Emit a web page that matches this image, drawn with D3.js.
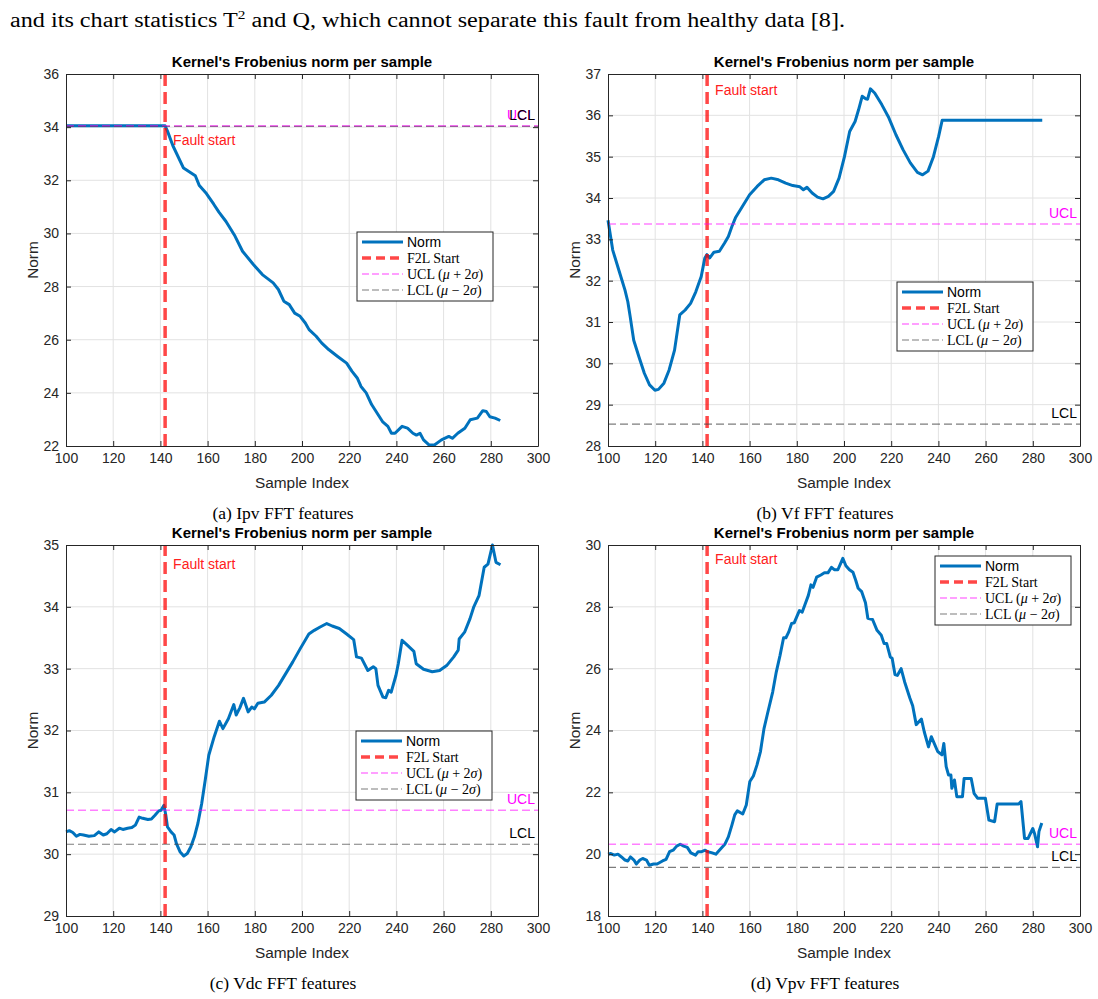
<!DOCTYPE html>
<html>
<head>
<meta charset="utf-8">
<script src="https://cdn.jsdelivr.net/npm/d3@7"></script>
<style>
  body { margin: 0; background: #fff; }
  svg { display: block; }
</style>
</head>
<body>
<script>
// ---- data (sample index, norm) ----
const ipvNorm = [[100,34.05],[142,34.05],[143,33.85],[145.3,33.3],[149.8,32.46],[154.8,32.17],[156.5,31.8],[159.5,31.5],[162.6,31.1],[164.8,30.8],[167.8,30.45],[171.6,29.9],[174.8,29.33],[179.4,28.83],[183.2,28.45],[187.8,28.14],[190,27.89],[192.3,27.45],[194.6,27.32],[196.9,27.0],[199.2,26.88],[201.4,26.63],[203,26.38],[206,26.13],[208.3,25.88],[211.3,25.63],[215.1,25.37],[218.9,25.12],[221.2,24.81],[223.4,24.56],[225,24.24],[227.2,24.0],[229.5,23.56],[231.8,23.24],[234.1,22.92],[236.4,22.74],[237.9,22.48],[239.4,22.48],[242.4,22.74],[244.7,22.67],[247,22.48],[248.5,22.41],[250,22.48],[251.5,22.23],[253.8,22.04],[256.1,22.04],[259.1,22.23],[262.2,22.36],[263.7,22.29],[266,22.48],[269,22.67],[271.3,22.99],[274.3,23.05],[276.6,23.33],[278.1,23.3],[279.6,23.1],[281.8,23.05],[284,22.96]];

const vfNorm = [[100,33.46],[102,32.74],[105,32.18],[107.2,31.77],[108.4,31.49],[109.4,31.13],[110.9,30.56],[113.1,30.16],[115.4,29.76],[117.6,29.48],[119.9,29.35],[121.4,29.37],[123.7,29.52],[125.9,29.84],[128.2,30.32],[130.4,31.17],[132.7,31.29],[135,31.45],[137.2,31.73],[139.5,32.1],[141,32.54],[141.9,32.63],[143.1,32.55],[144.9,32.69],[147.2,32.71],[149.4,32.91],[151,33.07],[152.5,33.31],[154,33.52],[157,33.8],[160,34.08],[163.2,34.28],[166.2,34.44],[169.2,34.48],[172.2,34.44],[175.3,34.36],[178.3,34.3],[181.3,34.27],[182.8,34.2],[184.3,34.26],[186.5,34.12],[188.8,34.02],[191.1,33.98],[193.4,34.04],[195.6,34.16],[197.9,34.48],[200.2,35.0],[202.4,35.61],[204.7,35.85],[206.2,36.14],[207.7,36.46],[209.2,36.4],[210,36.39],[211.2,36.64],[213,36.54],[216,36.26],[219,35.94],[222,35.53],[225,35.17],[228.1,34.85],[231.1,34.62],[233.3,34.56],[235.6,34.65],[237.9,35.0],[240.1,35.49],[241.6,35.88],[284,35.88]];

const vdcNorm = [[100,30.36],[101.4,30.38],[102.9,30.35],[104.4,30.29],[105.9,30.32],[107.4,30.31],[109.7,30.29],[112,30.3],[113.9,30.36],[115.8,30.31],[117.3,30.33],[119.1,30.4],[120.6,30.36],[122.6,30.42],[124.1,30.4],[126.1,30.42],[127.9,30.43],[129.4,30.47],[131,30.6],[132.5,30.58],[134.7,30.56],[136.2,30.57],[137.7,30.63],[139.3,30.7],[140.3,30.71],[141.5,30.79],[142.3,30.63],[143,30.44],[144.5,30.36],[145.8,30.31],[146.8,30.17],[148.3,30.04],[149.9,29.97],[151.4,30.01],[152.9,30.12],[154.4,30.28],[155.9,30.5],[157.5,30.82],[159,31.2],[160.5,31.6],[162.8,31.9],[165,32.15],[166.5,32.03],[168.8,32.19],[171.1,32.42],[172.1,32.25],[173.7,32.37],[175.2,32.52],[177.2,32.3],[178.7,32.38],[179.8,32.35],[181.3,32.44],[184,32.46],[187,32.57],[190.1,32.73],[193.1,32.92],[196.1,33.11],[199.2,33.32],[202.9,33.56],[205.2,33.62],[207.5,33.67],[210.5,33.73],[212.8,33.69],[215.8,33.65],[218.9,33.56],[221.9,33.47],[223.1,33.19],[225.2,33.17],[227.9,32.97],[230.2,33.03],[231.3,33.0],[232.2,32.73],[234.3,32.54],[235.5,32.53],[236.7,32.65],[237.8,32.62],[239.8,32.89],[240.8,33.08],[242.4,33.46],[244.6,33.38],[247.4,33.28],[248.4,33.08],[251.5,32.99],[255.2,32.95],[258.3,32.97],[261.3,33.05],[264.3,33.19],[266.2,33.3],[266.6,33.48],[268.9,33.59],[271.2,33.81],[272.7,33.99],[275,34.18],[277.2,34.64],[278.8,34.69],[280.7,35.0],[282.2,34.72],[284.1,34.68]];

const vpvNorm = [[100,20.0],[101.2,20.02],[102.7,19.97],[104.2,20.0],[105.7,19.91],[107.2,19.81],[108.4,19.78],[109.5,19.91],[111,19.81],[112,19.68],[113.5,19.81],[114.7,19.86],[116.3,19.81],[117.5,19.64],[119.3,19.68],[120.8,19.68],[123.1,19.78],[124.6,19.83],[126.1,20.08],[127.6,20.13],[129.1,20.26],[130.6,20.32],[132.1,20.26],[133.6,20.22],[135.1,20.04],[137.1,19.97],[138.2,20.08],[139.7,20.08],[141.2,20.13],[142.2,20.08],[143.8,20.05],[145.7,20.0],[147.2,20.13],[149.5,20.32],[151,20.56],[152.5,20.94],[153.7,21.27],[154.8,21.4],[157.1,21.3],[158.6,21.59],[160.1,22.35],[161.6,22.53],[163.1,22.88],[164.6,23.32],[166.1,24.06],[167.6,24.55],[169.8,25.25],[171.3,25.89],[172.9,26.43],[174.4,27.0],[175.4,27.0],[176.6,27.19],[177.8,27.46],[178.9,27.48],[179.6,27.61],[181.1,27.88],[182.3,27.83],[183.4,28.06],[184.9,28.37],[186,28.71],[186.9,28.63],[188.4,28.96],[190.2,29.03],[191.7,29.1],[193.2,29.1],[194.7,29.28],[195.9,29.2],[197.4,29.2],[198.5,29.39],[199.5,29.57],[200.8,29.33],[202.3,29.2],[203.8,29.12],[205,28.85],[206,28.6],[207.5,28.49],[209.1,28.13],[210.1,27.63],[212.1,27.59],[214,27.24],[215.8,27.08],[217,26.81],[218.1,26.81],[219.6,26.38],[220.4,26.34],[221.6,25.81],[222.6,25.78],[224.2,26.0],[225.7,25.57],[227.9,25.05],[229.1,24.8],[230.6,24.19],[232.8,24.37],[234,23.96],[235.8,23.47],[237,23.8],[239.7,23.32],[241.5,23.21],[242.3,23.58],[243.3,22.83],[244.3,22.56],[245.3,22.56],[245.7,22.13],[246.8,22.4],[247.8,21.86],[250.2,21.86],[250.9,22.45],[253.9,22.45],[255.1,21.97],[256.6,21.81],[259.9,21.81],[261.4,21.1],[263.8,21.05],[264.9,21.62],[274,21.62],[275,21.7],[276.5,20.51],[278,20.51],[280,20.83],[280.8,20.65],[282,20.24],[282.6,20.73],[283.8,21.01]];

const uclValues = [34.05, 33.37, 30.71, 20.32];
const lclValues = [34.03, 28.53, 30.16, 19.57];
const faultIndex = 142;
const faultLabelY = [33.52, 36.62, 34.69, 29.55];
const yDomains = [[22, 36], [28, 37], [29, 35], [18, 30]];
const yTickStep = [2, 1, 1, 2];
const xTicks = d3.range(100, 301, 20);
const captions = ['(a) Ipv FFT features', '(b) Vf FFT features', '(c) Vdc FFT features', '(d) Vpv FFT features'];
const legendLabels = ['Norm', 'F2L Start', 'UCL', 'LCL'];

// ---- layout ----
const width = 1098, height = 999;
const sans = '"Liberation Sans", Arial, Helvetica, sans-serif';
const serif = '"Liberation Serif", "Times New Roman", serif';
const ink = '#262626';

const svg = d3.select('body').append('svg').attr('width', width).attr('height', height);
svg.append('rect').attr('width', width).attr('height', height).attr('fill', '#fff');

// running text above the figure
const intro = svg.append('text').attr('x', 10).attr('y', 27)
  .attr('font-family', serif).attr('font-size', 20.5).attr('fill', '#000')
  .attr('textLength', 835).attr('lengthAdjust', 'spacingAndGlyphs');
intro.append('tspan').text('and its chart statistics T');
intro.append('tspan').attr('font-size', 13).attr('dy', -8).text('2');
intro.append('tspan').attr('dy', 8).text(' and Q, which cannot separate this fault from healthy data [8].');

const panels = [
  { data: ipvNorm, left: 66, top: 74, h: 372, legend: [291, 158] },
  { data: vfNorm, left: 608, top: 74, h: 372, legend: [289, 208] },
  { data: vdcNorm, left: 66, top: 545, h: 371, legend: [290, 186] },
  { data: vpvNorm, left: 608, top: 545, h: 371, legend: [327, 11] }
];
const W = 472;

panels.forEach((p, i) => {
  const H = p.h;
  const g = svg.append('g').attr('transform', `translate(${p.left},${p.top})`);
  const x = d3.scaleLinear().domain([100, 300]).range([0, W]);
  const y = d3.scaleLinear().domain(yDomains[i]).range([H, 0]);
  const yTicks = d3.range(yDomains[i][0], yDomains[i][1] + 0.001, yTickStep[i]);

  // grid
  g.append('g').selectAll('line').data(xTicks.slice(1, -1)).join('line')
    .attr('x1', d => x(d)).attr('x2', d => x(d)).attr('y1', 0).attr('y2', H)
    .attr('stroke', '#e2e2e2').attr('stroke-width', 1);
  g.append('g').selectAll('line').data(yTicks.slice(1, -1)).join('line')
    .attr('y1', d => y(d)).attr('y2', d => y(d)).attr('x1', 0).attr('x2', W)
    .attr('stroke', '#e2e2e2').attr('stroke-width', 1);

  // norm curve
  const line = d3.line().x(d => x(d[0])).y(d => y(d[1]));
  g.append('path').datum(p.data).attr('d', line)
    .attr('fill', 'none').attr('stroke', '#0072BD').attr('stroke-width', 3)
    .attr('stroke-linejoin', 'round');

  // fault start line
  g.append('line').attr('x1', x(faultIndex)).attr('x2', x(faultIndex)).attr('y1', H).attr('y2', 0)
    .attr('stroke', '#ff0000').attr('stroke-opacity', 0.72).attr('stroke-width', 3.5)
    .attr('stroke-dasharray', '12,6');

  // control limits (LCL under UCL so overlapping lines read purple)
  g.append('line').attr('x1', 0).attr('x2', W).attr('y1', y(lclValues[i])).attr('y2', y(lclValues[i]))
    .attr('stroke', '#444').attr('stroke-opacity', 0.7).attr('stroke-width', 1.2)
    .attr('stroke-dasharray', '8,4');
  g.append('line').attr('x1', 0).attr('x2', W).attr('y1', y(uclValues[i])).attr('y2', y(uclValues[i]))
    .attr('stroke', '#ff00ff').attr('stroke-opacity', 0.5).attr('stroke-width', 1.4)
    .attr('stroke-dasharray', '8,4');

  g.append('text').attr('x', W - 3).attr('y', y(uclValues[i]) - 6).attr('text-anchor', 'end')
    .attr('font-family', sans).attr('font-size', 14).attr('fill', '#ff00ff').text('UCL');
  g.append('text').attr('x', W - 3).attr('y', y(lclValues[i]) - 6).attr('text-anchor', 'end')
    .attr('font-family', sans).attr('font-size', 14).attr('fill', '#000').text('LCL');

  g.append('text').attr('x', x(faultIndex) + 8).attr('y', y(faultLabelY[i])).attr('dy', '0.35em')
    .attr('font-family', sans).attr('font-size', 14).attr('fill', '#ff2020').text('Fault start');

  // axes (MATLAB style, ticks inward, boxed)
  const styleAxis = sel => {
    sel.selectAll('path').attr('stroke', ink).attr('stroke-width', 1);
    sel.selectAll('line').attr('stroke', ink).attr('stroke-width', 1);
    sel.selectAll('text').attr('fill', ink).attr('font-family', sans).attr('font-size', 14);
  };
  g.append('g').attr('transform', `translate(0,${H})`)
    .call(d3.axisBottom(x).tickValues(xTicks).tickSize(-5).tickSizeOuter(0).tickPadding(7))
    .call(styleAxis);
  g.append('g')
    .call(d3.axisLeft(y).tickValues(yTicks).tickSize(-5).tickSizeOuter(0).tickPadding(7).tickFormat(d3.format('d')))
    .call(styleAxis);
  g.append('g')
    .call(d3.axisTop(x).tickValues(xTicks).tickSize(-5).tickSizeOuter(0).tickFormat(''))
    .call(styleAxis);
  g.append('g').attr('transform', `translate(${W},0)`)
    .call(d3.axisRight(y).tickValues(yTicks).tickSize(-5).tickSizeOuter(0).tickFormat(''))
    .call(styleAxis);

  // labels
  g.append('text').attr('x', W / 2).attr('y', -7).attr('text-anchor', 'middle')
    .attr('font-family', sans).attr('font-weight', 'bold').attr('font-size', 15).attr('fill', '#000')
    .text("Kernel's Frobenius norm per sample");
  g.append('text').attr('x', W / 2).attr('y', H + 42).attr('text-anchor', 'middle')
    .attr('font-family', sans).attr('font-size', 15.4).attr('fill', ink).text('Sample Index');
  g.append('text').attr('transform', `translate(-33,${H / 2}) rotate(-90)`).attr('dy', '0.35em')
    .attr('text-anchor', 'middle').attr('font-family', sans).attr('font-size', 15.4).attr('fill', ink)
    .text('Norm');

  // caption
  g.append('text').attr('x', W / 2 - 19).attr('y', H + 73).attr('text-anchor', 'middle')
    .attr('font-family', serif).attr('font-size', 17.5).attr('fill', '#000').text(captions[i]);

  // legend
  const lg = g.append('g').attr('transform', `translate(${p.legend[0]},${p.legend[1]})`);
  lg.append('rect').attr('width', 136).attr('height', 69)
    .attr('fill', '#fff').attr('stroke', ink).attr('stroke-width', 1);
  const rowStyle = [
    { stroke: '#0072BD', op: 1, w: 3, dash: null },
    { stroke: '#ff0000', op: 0.72, w: 3.5, dash: '9,5' },
    { stroke: '#ff00ff', op: 0.5, w: 1.4, dash: '7,3' },
    { stroke: '#444', op: 0.7, w: 1.2, dash: '7,3' }
  ];
  legendLabels.forEach((lab, k) => {
    const cy = 10 + k * 16;
    const s = rowStyle[k];
    lg.append('line').attr('x1', 5).attr('x2', 46).attr('y1', cy).attr('y2', cy)
      .attr('stroke', s.stroke).attr('stroke-opacity', s.op).attr('stroke-width', s.w)
      .attr('stroke-dasharray', s.dash);
    const t = lg.append('text').attr('x', 50).attr('y', cy).attr('dy', '0.35em').attr('fill', '#000');
    if (k === 0) {
      t.attr('font-family', sans).attr('font-size', 14).text(lab);
    } else if (k === 1) {
      t.attr('font-family', serif).attr('font-size', 14).text(lab);
    } else {
      t.attr('font-family', serif).attr('font-size', 14);
      t.append('tspan').text(lab + ' (');
      t.append('tspan').attr('font-style', 'italic').text('\u03bc');
      t.append('tspan').text(k === 2 ? ' + 2' : ' \u2212 2');
      t.append('tspan').attr('font-style', 'italic').text('\u03c3');
      t.append('tspan').text(')');
    }
  });
});
</script>
</body>
</html>
